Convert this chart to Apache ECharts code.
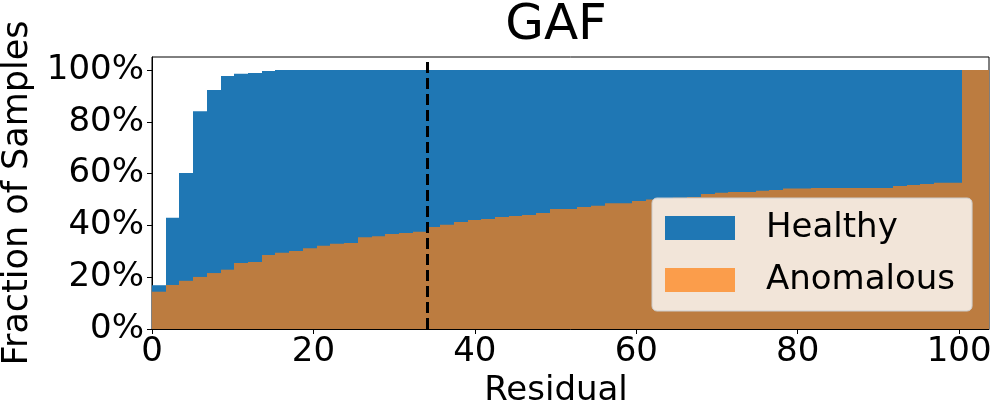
<!DOCTYPE html>
<html>
<head>
<meta charset="utf-8">
<title>GAF</title>
<script src="https://cdn.jsdelivr.net/npm/echarts@6/dist/echarts.min.js"></script>
<style>
	html, body { margin: 0; padding: 0; background: #fff; }
	#myEchart { width: 999px; height: 415px; }
</style>
</head>
<body>
<div id="myEchart"></div>
<script>
	// histogram bins: 61 bins of equal width starting at 0
	let binWidth = 1.7
	let binCount = 61
	// cumulative fraction of samples per bin (%)
	let healthy = [16.9, 42.9, 60.2, 84.1, 92.3, 97.7, 98.5, 98.8, 99.6, 100,
		100, 100, 100, 100, 100, 100, 100, 100, 100, 100,
		100, 100, 100, 100, 100, 100, 100, 100, 100, 100,
		100, 100, 100, 100, 100, 100, 100, 100, 100, 100,
		100, 100, 100, 100, 100, 100, 100, 100, 100, 100,
		100, 100, 100, 100, 100, 100, 100, 100, 100, 100,
		100]
	let anomalous = [14.4, 17.0, 18.6, 20.1, 21.6, 22.9, 25.5, 25.9, 28.6, 29.4,
		30.1, 31.2, 32.1, 32.9, 33.2, 35.4, 35.8, 36.7, 37.1, 37.5,
		39.4, 40.2, 41.3, 42.1, 42.5, 43.2, 43.6, 44.0, 44.8, 46.3,
		46.3, 47.1, 47.6, 48.5, 48.5, 49.4, 50.0, 50.4, 50.7, 51.0,
		52.1, 52.6, 52.9, 52.9, 53.4, 53.7, 54.2, 54.2, 54.4, 54.4,
		54.4, 54.4, 54.4, 54.4, 55.2, 55.6, 56.0, 56.5, 56.5, 100,
		100]
	let threshold = 34.1
	let xTicks = [0, 20, 40, 60, 80, 100]
	let yTicks = [0, 20, 40, 60, 80, 100]

	let font = 'DejaVu Sans'

	// [start, end, value] for each bin
	function toBins(values) {
		let out = []
		values.forEach((v, i) => {
			out.push([i * binWidth, (i + 1) * binWidth, v])
		})
		return out
	}

	function renderBar(params, api) {
		let top = api.coord([api.value(0), api.value(2)])
		let bottom = api.coord([api.value(1), 0])
		let x0 = Math.round(top[0])
		let x1 = Math.round(bottom[0])
		return {
			type: 'rect',
			shape: { x: x0, y: top[1], width: x1 - x0, height: bottom[1] - top[1] },
			style: api.style()
		}
	}

	const option = {
		animation: false,
		title: {
			text: 'GAF',
			left: 556,
			top: 1,
			padding: 0,
			textAlign: 'center',
			textStyle: { fontFamily: font, fontSize: 50, fontWeight: 'normal', color: '#000' }
		},
		legend: {
			orient: 'vertical',
			left: 652,
			top: 198,
			padding: [13, 17, 14, 13],
			itemWidth: 70,
			itemHeight: 24,
			itemGap: 18,
			icon: 'rect',
			backgroundColor: 'rgba(255,255,255,0.8)',
			borderColor: '#cccccc',
			borderWidth: 1,
			borderRadius: 5,
			textStyle: { fontFamily: font, fontSize: 34, color: '#000', padding: [0, 0, 0, 26] },
			data: ['Healthy', 'Anomalous']
		},
		grid: {
			left: 152,
			right: 10,
			top: 57,
			bottom: 86,
			show: true,
			borderColor: '#000',
			borderWidth: 1,
			containLabel: false,
			outerBoundsMode: 'none'
		},
		xAxis: {
			type: 'value',
			min: 0,
			max: binCount * binWidth,
			name: 'Residual',
			nameLocation: 'middle',
			nameGap: 43,
			nameTextStyle: { fontFamily: font, fontSize: 34, color: '#000', padding: [0, 29, 0, 0] },
			axisLine: { show: true, lineStyle: { color: '#000', width: 1 } },
			axisTick: { show: true, length: 5, lineStyle: { color: '#000' }, customValues: xTicks },
			axisLabel: { fontFamily: font, fontSize: 34, color: '#000', margin: 6, customValues: xTicks },
			splitLine: { show: false }
		},
		yAxis: {
			type: 'value',
			min: 0,
			max: 105,
			name: 'Fraction of Samples',
			nameLocation: 'middle',
			nameGap: 111,
			nameTextStyle: { fontFamily: font, fontSize: 35, color: '#000' },
			axisLine: { show: true, lineStyle: { color: '#000', width: 1 } },
			axisTick: { show: true, length: 5, lineStyle: { color: '#000' }, customValues: yTicks },
			axisLabel: {
				fontFamily: font, fontSize: 34, color: '#000', margin: 8,
				customValues: yTicks,
				formatter: '{value}%'
			},
			splitLine: { show: false }
		},
		series: [{
			name: 'Healthy',
			type: 'custom',
			renderItem: renderBar,
			itemStyle: { color: '#1f77b4' },
			encode: { x: [0, 1], y: 2 },
			data: toBins(healthy),
			z: 1
		}, {
			name: 'Anomalous',
			type: 'custom',
			renderItem: renderBar,
			itemStyle: { color: 'rgba(255,127,14,0.7)' },
			encode: { x: [0, 1], y: 2 },
			data: toBins(anomalous),
			z: 2,
			markLine: {
				silent: true,
				symbol: 'none',
				label: { show: false },
				lineStyle: { color: '#000', width: 3, type: [11, 5] },
				data: [{ xAxis: threshold }]
			}
		}]
	}

	let chart = echarts.init(document.getElementById('myEchart'))
	chart.setOption(option)
</script>
</body>
</html>
